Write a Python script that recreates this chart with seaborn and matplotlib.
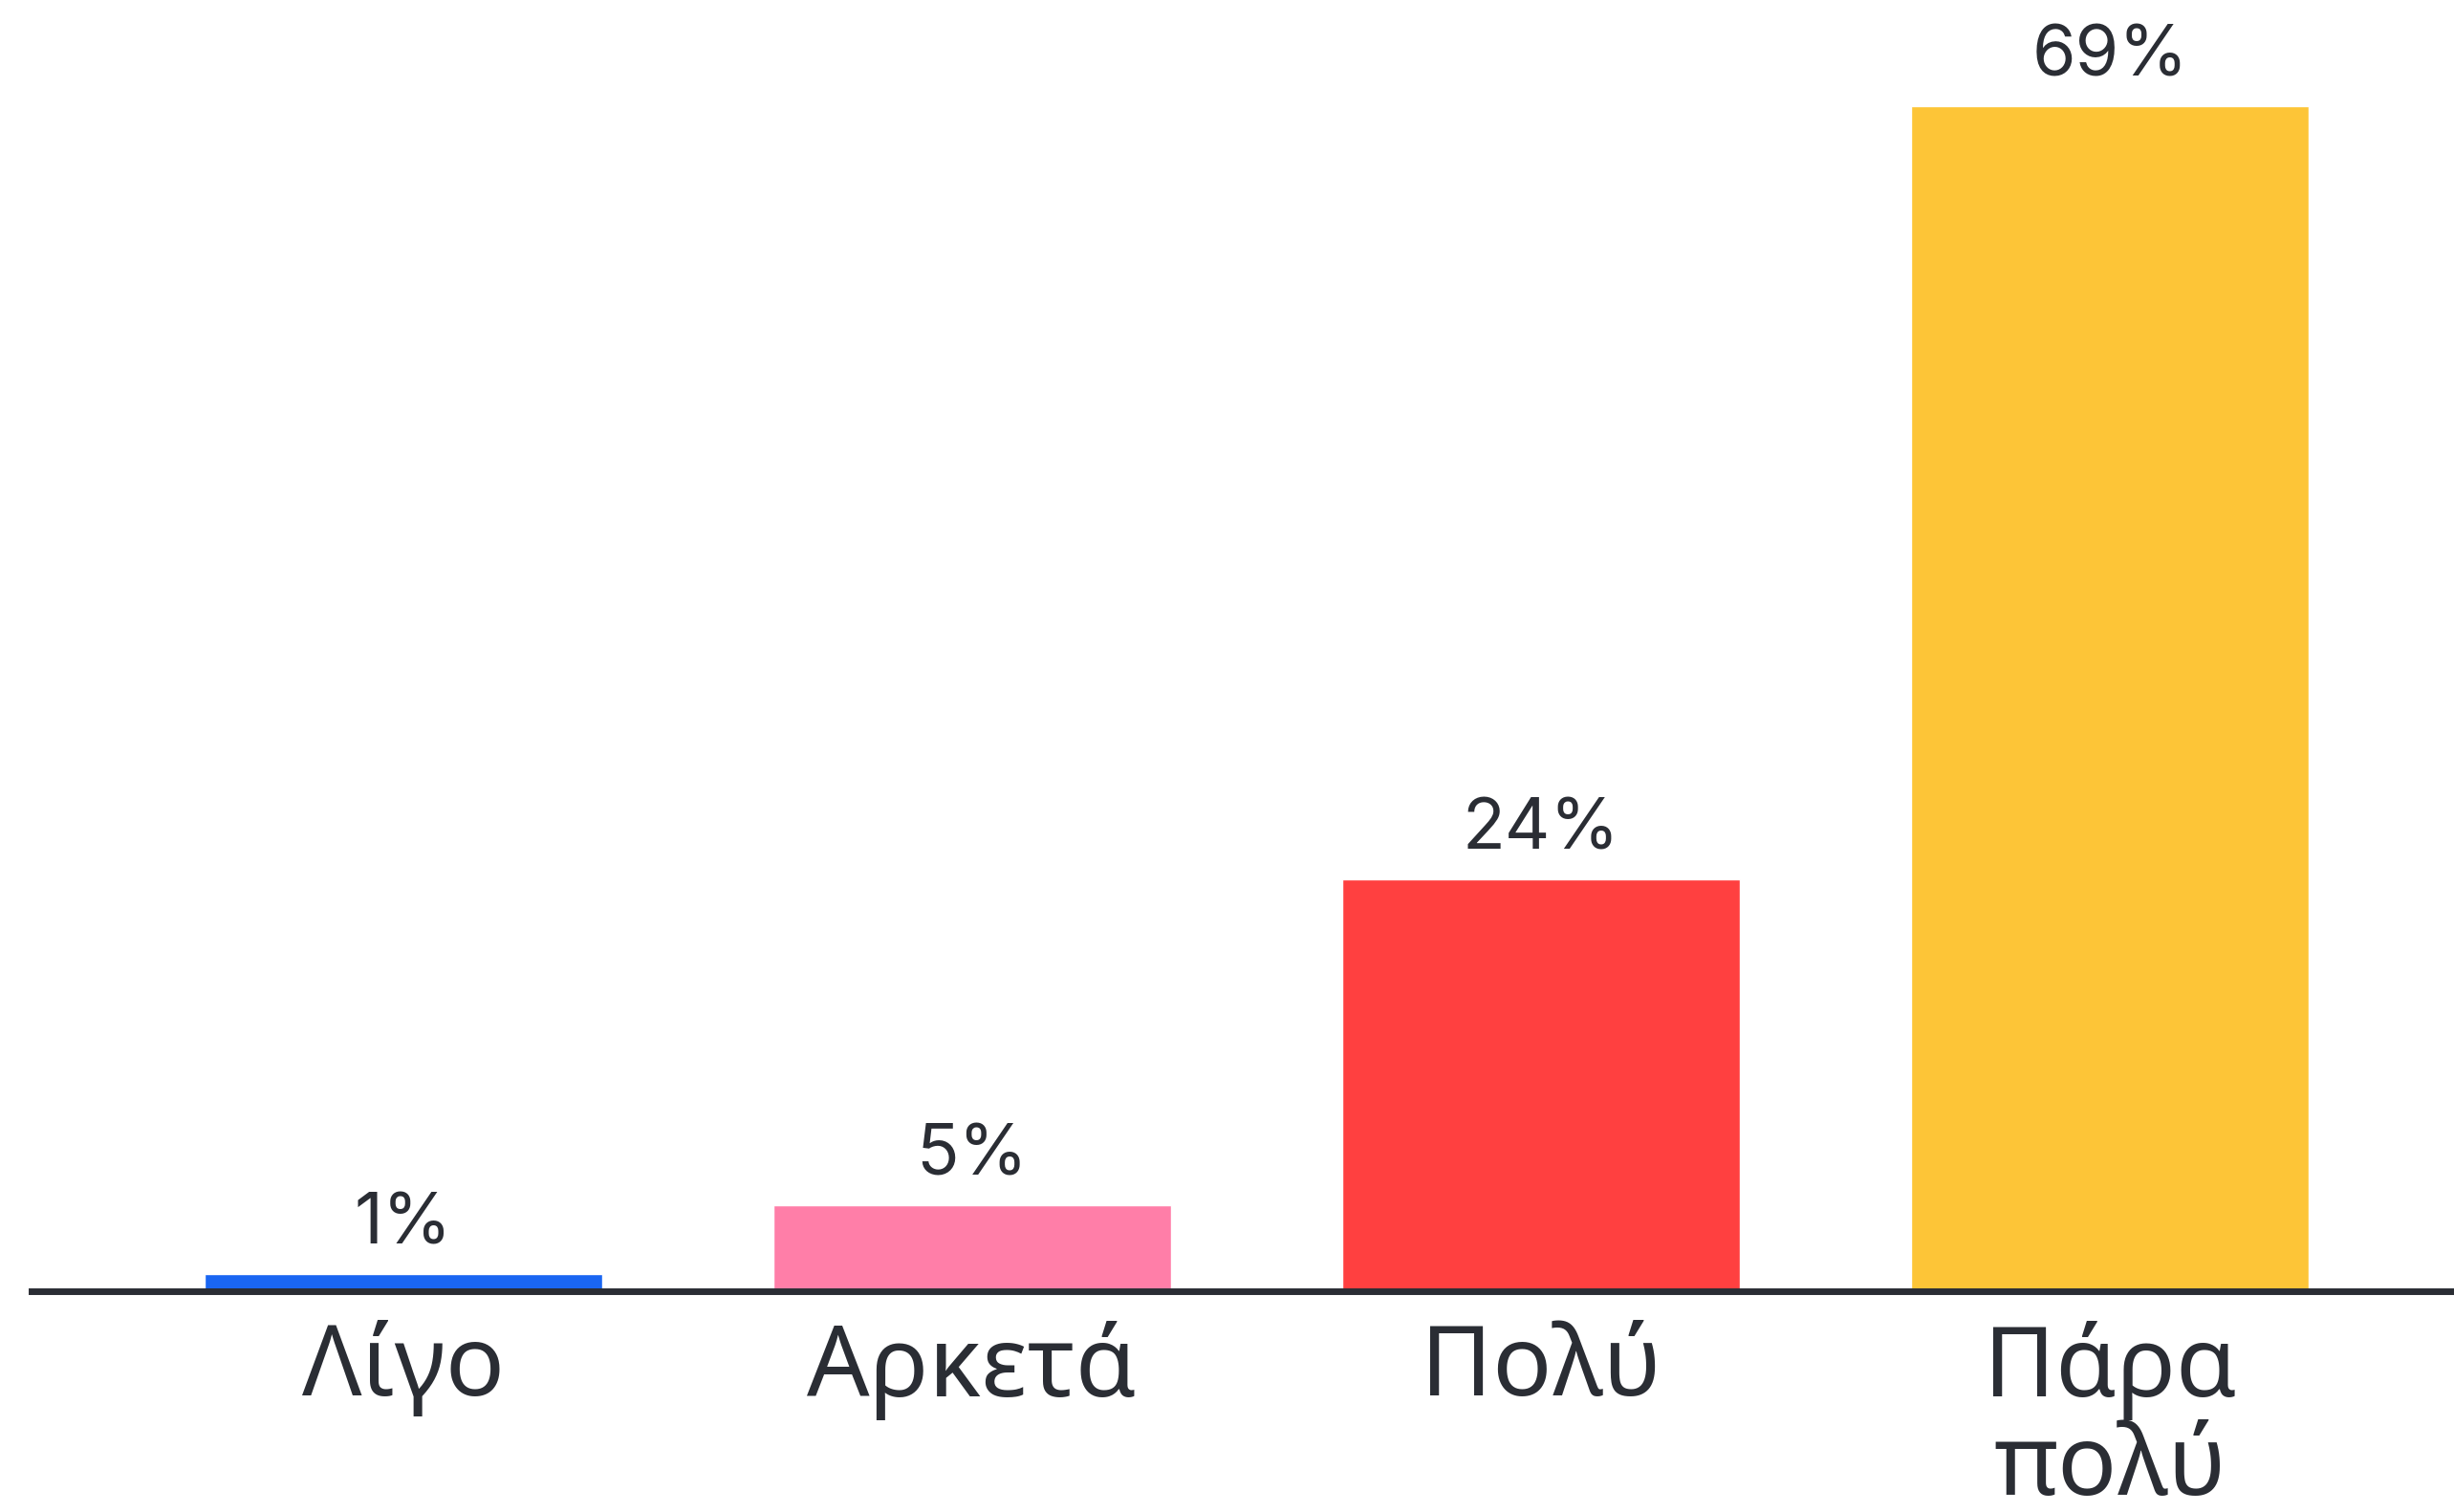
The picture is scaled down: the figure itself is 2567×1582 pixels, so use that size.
import pandas as pd
import matplotlib
matplotlib.use("Agg")
import matplotlib.pyplot as plt
import seaborn as sns

# --- DATA ---
categories = ["Λίγο", "Αρκετά", "Πολύ", "Πάρα\nπολύ"]
values = [1, 5, 24, 69]
value_labels = ["1%", "5%", "24%", "69%"]
colors = ["#1a66f2", "#ff7ea8", "#ff4040", "#fdc537"]

TEXT = "#2a2d34"

sns.set_theme(style="white")
plt.rcParams['font.family'] = ['Noto Sans', 'DejaVu Sans']

df = pd.DataFrame({"cat": categories, "val": values})

fig = plt.figure(figsize=(25.67, 15.82), dpi=100)
ax = fig.add_axes([0, 0.146, 1, 0.852])

sns.barplot(data=df, x="cat", y="val", hue="cat", palette=colors,
            width=0.7, legend=False, ax=ax, saturation=1)

ax.set_xlim(-0.709, 3.605)
ax.set_ylim(0, 75)

for s in ["top", "right", "left"]:
    ax.spines[s].set_visible(False)
ax.spines["bottom"].set_color(TEXT)
ax.spines["bottom"].set_linewidth(5)
ax.spines["bottom"].set_bounds(-0.654, 3.605)

ax.set_yticks([])
ax.set_xlabel("")
ax.set_ylabel("")
ax.tick_params(axis="x", length=0, pad=22, labelsize=74, labelcolor=TEXT)
for lbl in ax.get_xticklabels():
    lbl.set_linespacing(1.0)

# etiquettes des valeurs au-dessus des barres
for i, (v, t) in enumerate(zip(values, value_labels)):
    ax.annotate(t, (i, v), xytext=(0, 12), textcoords="offset points",
                ha="center", va="bottom", fontsize=53, color=TEXT,
                family=["Inter", "DejaVu Sans"])

fig.savefig("out.png", dpi=100)
